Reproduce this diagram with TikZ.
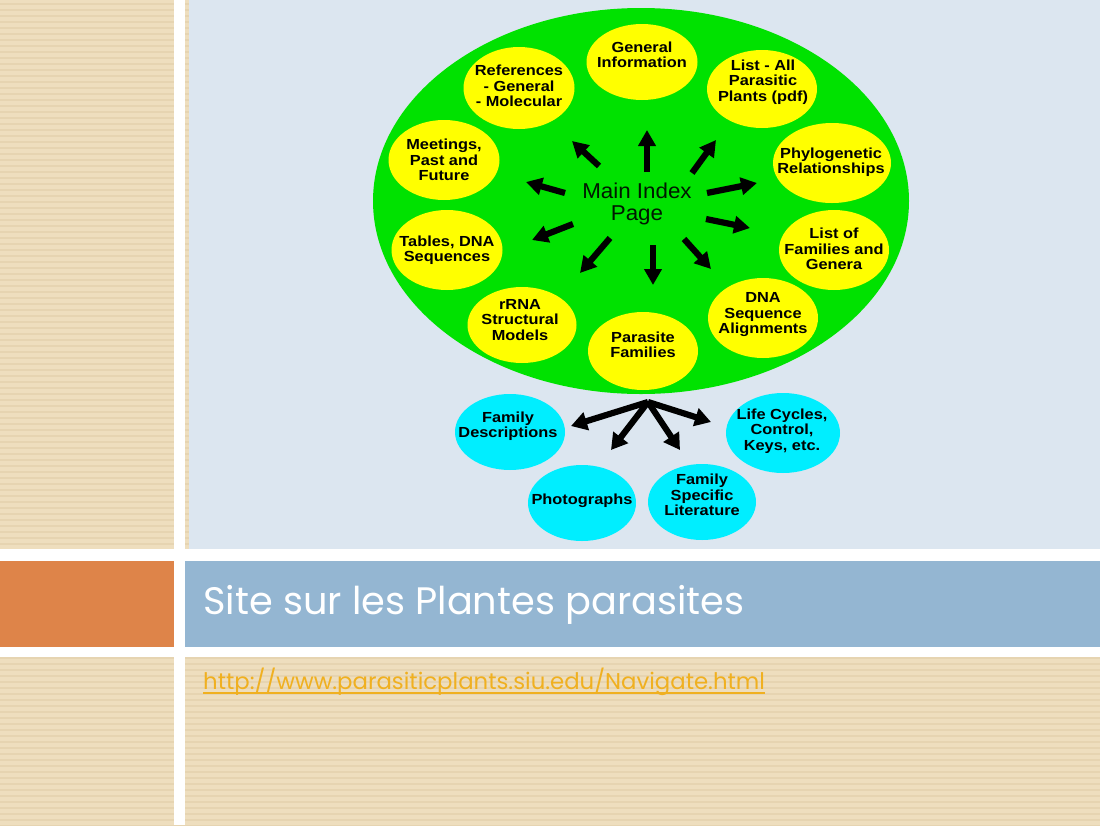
\documentclass[tikz,border=0pt]{standalone}
\usepackage{fontspec}
\setmainfont{Liberation Sans}
\newfontfamily\lblfont[FakeStretch=1.12]{Liberation Sans}
\newfontfamily\mainfont[FakeStretch=1.04]{Liberation Sans}
\newfontfamily\popp{Poppins}
\usetikzlibrary{arrows.meta}
\definecolor{beige}{RGB}{238,222,190}
\definecolor{beigedark}{RGB}{230,212,177}
\definecolor{picbg}{RGB}{220,230,240}
\definecolor{orangeblk}{RGB}{222,132,73}
\definecolor{titlebar}{RGB}{148,182,210}
\definecolor{urlcol}{RGB}{240,176,32}
\definecolor{grn}{RGB}{0,226,0}
\definecolor{yel}{RGB}{255,255,0}
\definecolor{cyn}{RGB}{0,238,255}
\begin{document}
\begin{tikzpicture}[x=1pt,y=-1pt,
  lab/.style={font=\lblfont\fontsize{14.6}{15.5}\selectfont\bfseries, align=center, inner sep=0pt, text=black},
  arr/.style={line width=6.2pt, -{Triangle[length=16pt,width=17pt]}, black}]
\useasboundingbox (0,0) rectangle (1100,825);
% background stripes
\fill[beige] (0,0) rectangle (1100,825);
\foreach \y in {0,6,...,822} \fill[beigedark] (0,\y+3) rectangle (1100,\y+5);
% white separators
\fill[white] (174,0) rectangle (185,825);
\fill[white] (0,549) rectangle (1100,561);
\fill[white] (0,647) rectangle (1100,657);
% picture area
\fill[picbg] (189,0) rectangle (1100,549);
% title band
\fill[orangeblk] (0,561) rectangle (174,647);
\fill[titlebar] (185,561) rectangle (1100,647);
% green ellipse
\fill[grn] (641,201) ellipse [x radius=268, y radius=193];
% yellow ellipses
\foreach \cx/\cy/\rx/\ry in {642/62/55.5/38, 519/88/55.5/41, 762/89/55/39, 444/160/55.5/40, 832/163/59/40,
  447/250/55.5/40, 834/250/55/40, 522/325/54.5/38, 763/318/55/40, 643/351/55/39}
  \fill[yel] (\cx,\cy) ellipse [x radius=\rx, y radius=\ry];
% cyan ellipses
\foreach \cx/\cy/\rx/\ry in {510/432/55/38, 582/503/54/38, 702/502/54/38, 783/433/57/40}
  \fill[cyn] (\cx,\cy) ellipse [x radius=\rx, y radius=\ry];
% labels
\node[lab] (geninfo) at (642,55) {General\\Information};
\node[lab] (refs) at (519,86) {References\\- General\\- Molecular};
\node[lab] (listall) at (763,82) {List - All\\Parasitic\\Plants (pdf)};
\node[lab] (meet) at (444,160) {Meetings,\\Past and\\Future};
\node[lab] (phylo) at (831,162) {Phylogenetic\\Relationships};
\node[lab] (tables) at (447,250) {Tables, DNA\\Sequences};
\node[lab] (listfam) at (834,249) {List of\\Families and\\Genera};
\node[lab] (rrna) at (520,320) {rRNA\\Structural\\Models};
\node[lab] (dnaseq) at (763,315) {DNA\\Sequence\\Alignments};
\node[lab] (parfam) at (643,345) {Parasite\\Families};
\node[lab] (famdesc) at (508,426) {Family\\Descriptions};
\node[lab] (photos) at (582,501) {Photographs};
\node[lab] (famspec) at (702,495) {Family\\Specific\\Literature};
\node[lab] (life) at (782,431) {Life Cycles,\\Control,\\Keys, etc.};
\node[font=\mainfont\fontsize{21.5}{21.5}\selectfont, align=center, inner sep=0pt, text=black!90!green] (main) at (637,204) {Main Index\\Page};
% arrows from main
\coordinate (s1) at (599,166); \coordinate (e1) at (572,141);
\coordinate (s2) at (647,172); \coordinate (e2) at (647,130);
\coordinate (s3) at (692,173); \coordinate (e3) at (716,140);
\coordinate (s4) at (565,193); \coordinate (e4) at (526,182);
\coordinate (s5) at (707,193); \coordinate (e5) at (757,183);
\coordinate (s6) at (573,224); \coordinate (e6) at (532,240);
\coordinate (s7) at (706,219); \coordinate (e7) at (750,228);
\coordinate (s8) at (610,238); \coordinate (e8) at (580,273);
\coordinate (s9) at (653,245); \coordinate (e9) at (653,285);
\coordinate (s10) at (684,239); \coordinate (e10) at (711,269);
\foreach \i in {1,...,10} \draw[arr] (s\i) -- (e\i);
% bottom fork arrows
\coordinate (fork) at (648,402);
\coordinate (f1) at (571,426);
\coordinate (f2) at (611,450);
\coordinate (f3) at (680,450);
\coordinate (f4) at (711,422);
\foreach \i in {1,...,4} \draw[arr, -{Triangle[length=16pt,width=18pt]}] (fork) -- (f\i);
% title and url
\node[anchor=base west, text=white, font=\popp\fontsize{38.3}{38}\selectfont, inner sep=0pt] (title) at (203,614) {Site sur les Plantes parasites};
\node[anchor=base west, text=urlcol, font=\popp\fontsize{22.8}{22}\selectfont, inner sep=0pt] (url) at (203,689) {http://www.parasiticplants.siu.edu/Navigate.html};
\draw[urlcol, line width=1.8pt] ([yshift=-4pt]url.base west) -- ([yshift=-4pt]url.base east);
\end{tikzpicture}
\end{document}
